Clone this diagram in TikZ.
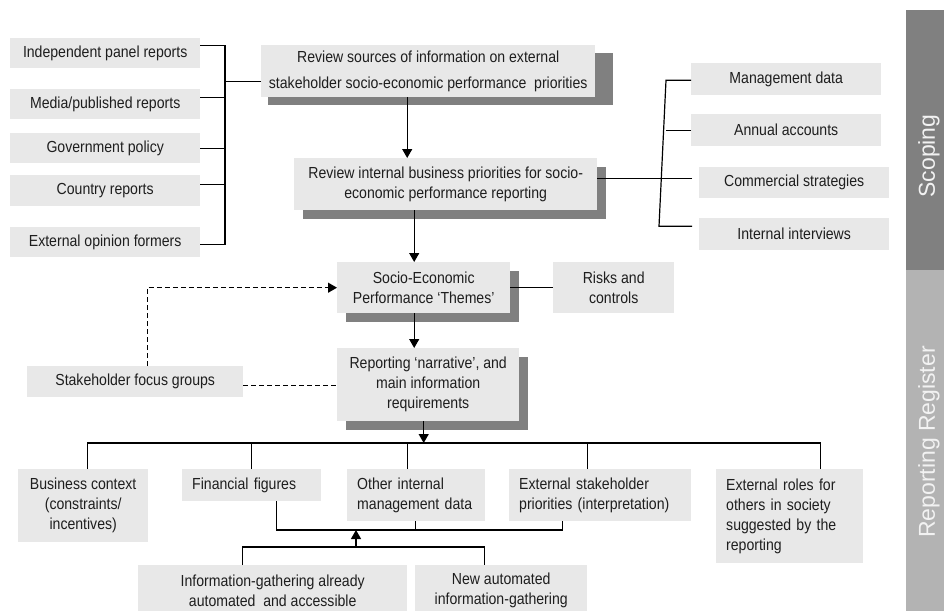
\documentclass[tikz,border=0pt]{standalone}
\usepackage{fontspec}
\usetikzlibrary{arrows.meta,calc,shadows,backgrounds}
\newfontfamily\bodyfont[FakeStretch=0.88]{Liberation Sans}
\newfontfamily\tabfont{Liberation Sans}
\definecolor{boxfill}{HTML}{E8E8E8}
\definecolor{shadowgray}{HTML}{808080}
\definecolor{tabdark}{HTML}{808080}
\definecolor{tablight}{HTML}{B3B3B3}
\definecolor{ink}{HTML}{1E1E1E}
\definecolor{tabtext}{HTML}{F2F2F2}
\begin{document}
\begin{tikzpicture}[x=1pt,y=-1pt,
  box/.style={fill=boxfill, text=ink, inner sep=0pt, anchor=north west, align=center,
    font=\bodyfont\fontsize{16}{20}\selectfont},
  lbox/.style={box, align=left, inner xsep=10pt},
  raised/.style={drop shadow={shadow xshift=8.5pt, shadow yshift=-9pt, fill=shadowgray, opacity=1}},
  link/.style={draw=black, line width=1.2pt},
  tip/.style={-{Triangle[length=9pt,width=10pt]}},
  arr/.style={link, tip},
  dlink/.style={link, dash pattern=on 5pt off 3pt},
  tab/.style={font=\tabfont\fontsize{23}{23}\selectfont, text=tabtext, rotate=90, inner sep=0pt}
]
\useasboundingbox (0,0) rectangle (944,610);
\clip (0,0) rectangle (944,610);

% side tabs
\fill[tabdark] (906,10) rectangle (944,270);
\fill[tablight] (906,270) rectangle (944,612);
\node[tab] (scope) at (929,156) {Scoping};
\node[tab] (register) at (929,442) {Reporting Register};

% external sources
\node[box, minimum width=190pt, minimum height=30pt] (ipr) at (10,38) {Independent panel reports};
\node[box, minimum width=190pt, minimum height=30pt] (med) at (10,89) {Media/published reports};
\node[box, minimum width=190pt, minimum height=30pt] (gov) at (10,133) {Government policy};
\node[box, minimum width=190pt, minimum height=31pt] (cty) at (10,175) {Country reports};
\node[box, minimum width=190pt, minimum height=30pt] (eop) at (10,227) {External opinion formers};

% first review step, with a shadow wider on the right
\node[box, minimum width=334pt, minimum height=52pt, font=\bodyfont\fontsize{16}{25.5}\selectfont] (rs) at (261,45)
  {Review sources of information on external\\stakeholder socio-economic performance~ priorities};
\begin{scope}[on background layer]
  \fill[shadowgray] ($(rs.south west)+(7,8)$) rectangle ($(rs.north east)+(18,8)$);
\end{scope}

% internal review step
\node[box, raised, minimum width=303pt, minimum height=52pt] (ri) at (294,158)
  {Review internal business priorities for socio-\\economic performance reporting};

% internal sources
\node[box, minimum width=190pt, minimum height=32pt] (mgd) at (691,63) {Management data};
\node[box, minimum width=190pt, minimum height=32pt] (aac) at (691,114) {Annual accounts};
\node[box, minimum width=190pt, minimum height=31pt] (cst) at (699,167) {Commercial strategies};
\node[box, minimum width=190pt, minimum height=32pt] (iin) at (699,218) {Internal interviews};

% themes and narrative
\node[box, raised, minimum width=173pt, minimum height=51pt] (socio) at (337,262)
  {Socio-Economic\\Performance ‘Themes’};
\node[box, minimum width=121pt, minimum height=51pt] (risk) at (553,262) {Risks and\\controls};
\node[box, raised, minimum width=182pt, minimum height=73pt] (rep) at (337,348)
  {Reporting ‘narrative’, and\\main information\\requirements};
\node[box, minimum width=216pt, minimum height=31pt] (sfg) at (27,366) {Stakeholder focus groups};

% information requirements
\node[box, minimum width=130pt, minimum height=73pt] (bc) at (18,469)
  {Business context\\(constraints/\\incentives)};
\node[lbox, text width=119pt, minimum height=32pt] (ff) at (182,469) {Financial figures};
\node[lbox, text width=118pt, minimum height=52pt] (oim) at (347,469) {Other internal\\management data};
\node[lbox, text width=162pt, minimum height=52pt] (esp) at (509,469)
  {External stakeholder\\priorities (interpretation)};
\node[lbox, text width=127pt, minimum height=94pt] (erf) at (716,469)
  {External roles for\\others in society\\suggested by the\\reporting};

% information gathering
\node[box, minimum width=269pt, minimum height=51pt] (iga) at (138,565)
  {Information-gathering already\\automated~ and accessible};
\node[box, minimum width=172pt, minimum height=51pt] (nag) at (415,565)
  {New automated\\information-gathering};

% left bracket
\coordinate (lb) at (225,0);
\draw[link] ([yshift=8pt]ipr.east) -- ([yshift=8pt]ipr.east -| lb)
  -- ([yshift=-2pt]eop.east -| lb) -- ([yshift=-2pt]eop.east);
\draw[link] ([yshift=7pt]med.east) -- ([yshift=7pt]med.east -| lb);
\draw[link] (gov.east) -- (gov.east -| lb);
\draw[link] ([yshift=6pt]cty.east) -- ([yshift=6pt]cty.east -| lb);
\draw[link] ([yshift=-10pt]rs.west) -- ([yshift=-10pt]rs.west -| lb);

% right bracket
\coordinate (rb) at (666,0);
\draw[link] ([yshift=-1pt]mgd.west) -- ([yshift=-1pt]mgd.west -| rb)
  -- ([yshift=8pt,xshift=-7pt]iin.west -| rb) -- ([yshift=8pt,xshift=-7pt]iin.west);
\draw[link] (aac.west) -- (aac.west -| rb);
\draw[link] ([yshift=4.5pt,xshift=-7pt]cst.west) -- ([yshift=4.5pt]cst.west -| rb);
\draw[link] ([yshift=6pt]ri.east) -- ([yshift=6pt]ri.east -| rb);

% main flow
\draw[arr] ([xshift=-21pt]rs.south) -- ([xshift=-21pt]rs.south |- ri.north);
\draw[arr] ([xshift=-31.5pt]ri.south) -- ([xshift=-31.5pt]ri.south |- socio.north);
\draw[arr] ([xshift=-9.5pt]socio.south) -- ([xshift=-9.5pt]socio.south |- rep.north);
\draw[link] (socio.east) -- (risk.west);

% stakeholder input
\draw[dlink, tip] ([xshift=12pt]sfg.north) |- (socio.west);
\draw[dlink] ([yshift=-3.5pt]sfg.east) -- ([yshift=-3.5pt]sfg.east -| rep.west);

% distribution bus
\coordinate (bus) at (0,443);
\draw[arr] ([xshift=-4.5pt]rep.south) -- ([xshift=-4.5pt]rep.south |- bus);
\draw[link] ([xshift=4pt]bc.north) -- ([xshift=4pt]bc.north |- bus)
  -- ([xshift=31pt]erf.north |- bus) -- ([xshift=31pt]erf.north);
\draw[link] (ff.north) -- (ff.north |- bus);
\draw[link] ([xshift=-9pt]oim.north) -- ([xshift=-9pt]oim.north |- bus);
\draw[link] ([xshift=-13pt]esp.north) -- ([xshift=-13pt]esp.north |- bus);

% gathering feeds the internal figures
\coordinate (mrg) at (0,530);
\draw[link] ([xshift=24.5pt]ff.south) -- ([xshift=24.5pt]ff.south |- mrg)
  -- ([xshift=-38pt]esp.south |- mrg) -- ([xshift=-38pt]esp.south);
\draw[link] ([xshift=-1pt]oim.south) -- ([xshift=-1pt]oim.south |- mrg);
\coordinate (fork) at (356,547);
\draw[link] ([xshift=-30pt]iga.north) -- ([xshift=-30pt]iga.north |- fork)
  -- ([xshift=-17pt]nag.north |- fork) -- ([xshift=-17pt]nag.north);
\draw[arr] (fork) -- (fork |- mrg);
\end{tikzpicture}
\end{document}
